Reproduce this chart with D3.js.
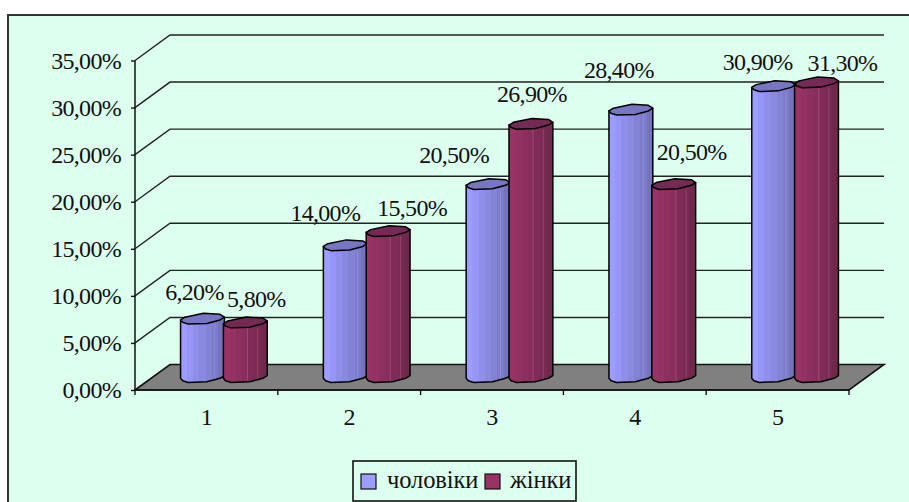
<!DOCTYPE html>
<html><head><meta charset="utf-8">
<script src="https://cdnjs.cloudflare.com/ajax/libs/d3/7.8.5/d3.min.js"></script>
<style>html,body{margin:0;padding:0;background:#fff;overflow:hidden}svg{display:block}
text{font-family:"Liberation Serif","Times New Roman",serif;fill:#111;letter-spacing:-0.7px}</style></head>
<body><svg id="c" width="909" height="502"></svg>
<script>
const categories = ["1","2","3","4","5"];
const seriesNames = ["чоловіки","жінки"];
const men = [6.2,14.0,20.5,28.4,30.9];
const women = [5.8,15.5,26.9,20.5,31.3];
const yTicks = [0,5,10,15,20,25,30,35];

const svg = d3.select("#c");
const FS = 24, depthX = 35, depthY = -25.5;
const seriesValues = [men, women];
const palette = [
  {top:"#7676c2", stops:["#9d9dff","#9696f6","#8f8fea","#8989e0","#8383d6","#7c7cca","#7474bc"]},
  {top:"#752a55", stops:["#993366","#943263","#8e305f","#872e5b","#802c57","#792a53","#70284d"]}
];
const defs = svg.append("defs");
palette.forEach((p,i)=>{
  const g = defs.append("linearGradient").attr("id","g"+i);
  p.stops.forEach((c,k)=>{
    g.append("stop").attr("offset",k/p.stops.length).attr("stop-color",c);
    g.append("stop").attr("offset",(k+1)/p.stops.length).attr("stop-color",c);
  });
});

// chart frame
svg.append("rect").attr("x",8).attr("y",15).attr("width",930).attr("height",520)
  .attr("fill","#ddffee").attr("stroke","#333").attr("stroke-width",2);

// scales
const y = d3.scaleLinear().domain([0,35]).range([390,60.5]);
const x = d3.scaleBand().domain(categories).range([135,849]);
const xBars = d3.scaleBand().domain(categories).range([135+depthX/2,849+depthX/2]).paddingInner(0.4).paddingOuter(0.2);
const xSeries = d3.scaleBand().domain(d3.range(seriesNames.length)).range([0,xBars.bandwidth()]);

const line = d3.line();
// floor
svg.append("path")
  .attr("d",line([[135,y(0)],[135+depthX,y(0)+depthY],[849+depthX,y(0)+depthY],[849,y(0)]])+"Z")
  .attr("fill","#808080").attr("stroke","#111").attr("stroke-width",1.6);

// grid lines on side and back walls
svg.append("g").selectAll("path").data(yTicks.filter(t=>t>0)).join("path")
  .attr("d",t=>line([[135,y(t)],[135+depthX,y(t)+depthY],[849+depthX,y(t)+depthY]]))
  .attr("fill","none").attr("stroke","#222").attr("stroke-width",1.4);

// axes
const yAxis = d3.axisLeft(y).tickValues(yTicks).tickSize(4).tickPadding(10)
  .tickFormat(t=>d3.format(".2f")(t).replace(".",",")+"%");
const gy = svg.append("g").attr("transform","translate(135,0)").call(yAxis);
gy.select(".domain").attr("stroke","#111").attr("stroke-width",1.5).attr("d",`M0,${y(35)}V${y(0)}`);
gy.selectAll(".tick line").attr("stroke","#111").attr("stroke-width",1.4);
gy.selectAll("text").attr("font-size",FS).attr("font-family",'"Liberation Serif"').attr("fill","#111");

const xAxis = d3.axisBottom(x).tickSize(0).tickPadding(18);
const gx = svg.append("g").attr("transform",`translate(0,${y(0)})`).call(xAxis);
gx.select(".domain").attr("stroke","#111").attr("stroke-width",1.6).attr("d","M135,0H849");
gx.selectAll("text").attr("font-size",FS).attr("font-family",'"Liberation Serif"').attr("fill","#111");
gx.selectAll(".edge").data(d3.range(categories.length+1)).join("line").attr("class","edge")
  .attr("x1",i=>135+i*x.step()).attr("x2",i=>135+i*x.step()).attr("y1",0).attr("y2",5)
  .attr("stroke","#111").attr("stroke-width",1.4);

// cylinder outline (relative to radius)
const capOutline = [[-1,.2],[-.8,-.33],[.05,-1.07],[.8,-.87],[1,-.33],[.8,.2],[.2,.87],[-.65,1],[-.9,.67]];
const frontOutline = [[-1,.2],[-.9,.67],[-.65,1],[.2,.87],[.8,.2],[1,-.33]];
const ry = 5.2;
const baseY = y(0)+depthY/2;
const heightPx = v => y(0)-y(v);

categories.forEach((cat,ci)=>{
  seriesValues.forEach((vals,si)=>{
    const v = vals[ci], w = xSeries.bandwidth()+1;
    const cx = xBars(cat)+xSeries(si)+xSeries.bandwidth()/2;
    const rx = w/2, topY = baseY-heightPx(v);
    const pt = (p,cy)=>[cx+p[0]*rx, cy+p[1]*ry];
    const side = [pt([-1,.2],topY)]
      .concat(frontOutline.map(p=>pt(p,baseY)))
      .concat([pt([1,-.33],topY)]);
    const g = svg.append("g");
    g.append("path").attr("d",line(side)+"Z").attr("fill",`url(#g${si})`)
      .attr("stroke","#000").attr("stroke-width",1.5).attr("stroke-linejoin","round");
    [0.55,0.78].forEach((f,k)=>{
      if(si===1 || k===1) g.append("line")
        .attr("x1",cx-rx+2*rx*f).attr("x2",cx-rx+2*rx*f).attr("y1",topY+ry).attr("y2",baseY+ry*(k?0.2:.6))
        .attr("stroke",si?"#b0708f":"#a8a8e8").attr("stroke-opacity",.55).attr("stroke-width",.8);
    });
    g.append("path").attr("d",line(capOutline.map(p=>pt(p,topY)))+"Z").attr("fill",palette[si].top)
      .attr("stroke","#000").attr("stroke-width",1.5).attr("stroke-linejoin","round");
  });
});

// data labels (hand-nudged per category, as the original chart places them)
const nudges = [
  [[-8,-19],[11,-16]],[[-20,-24],[24,-15]],[[-34,-21],[1,-22]],[[-12,-32],[18,-24]],[[-16,-16],[26,-12]]
];
categories.forEach((cat,ci)=>{
  seriesValues.forEach((vals,si)=>{
    const cx = xBars(cat)+xSeries(si)+xSeries.bandwidth()/2;
    const topY = baseY-heightPx(vals[ci]);
    svg.append("text").attr("x",cx+nudges[ci][si][0]).attr("y",topY+nudges[ci][si][1])
      .attr("text-anchor","middle").attr("font-size",FS)
      .text(d3.format(".2f")(vals[ci]).replace(".",",")+"%");
  });
});

// legend
const lg = svg.append("g");
lg.append("rect").attr("x",353).attr("y",461).attr("width",223).attr("height",40)
  .attr("fill","#ddffee").attr("stroke","#111").attr("stroke-width",1.6);
const legendX = [361,485], legendTextX = [387,510];
seriesNames.forEach((n,i)=>{
  lg.append("rect").attr("x",legendX[i]).attr("y",474).attr("width",15).attr("height",15)
    .attr("fill",palette[i].stops[0]).attr("stroke","#111").attr("stroke-width",1.2);
  lg.append("text").attr("x",legendTextX[i]).attr("y",488).attr("font-size",24.5).style("letter-spacing","-0.1px").text(n);
});
</script></body></html>
